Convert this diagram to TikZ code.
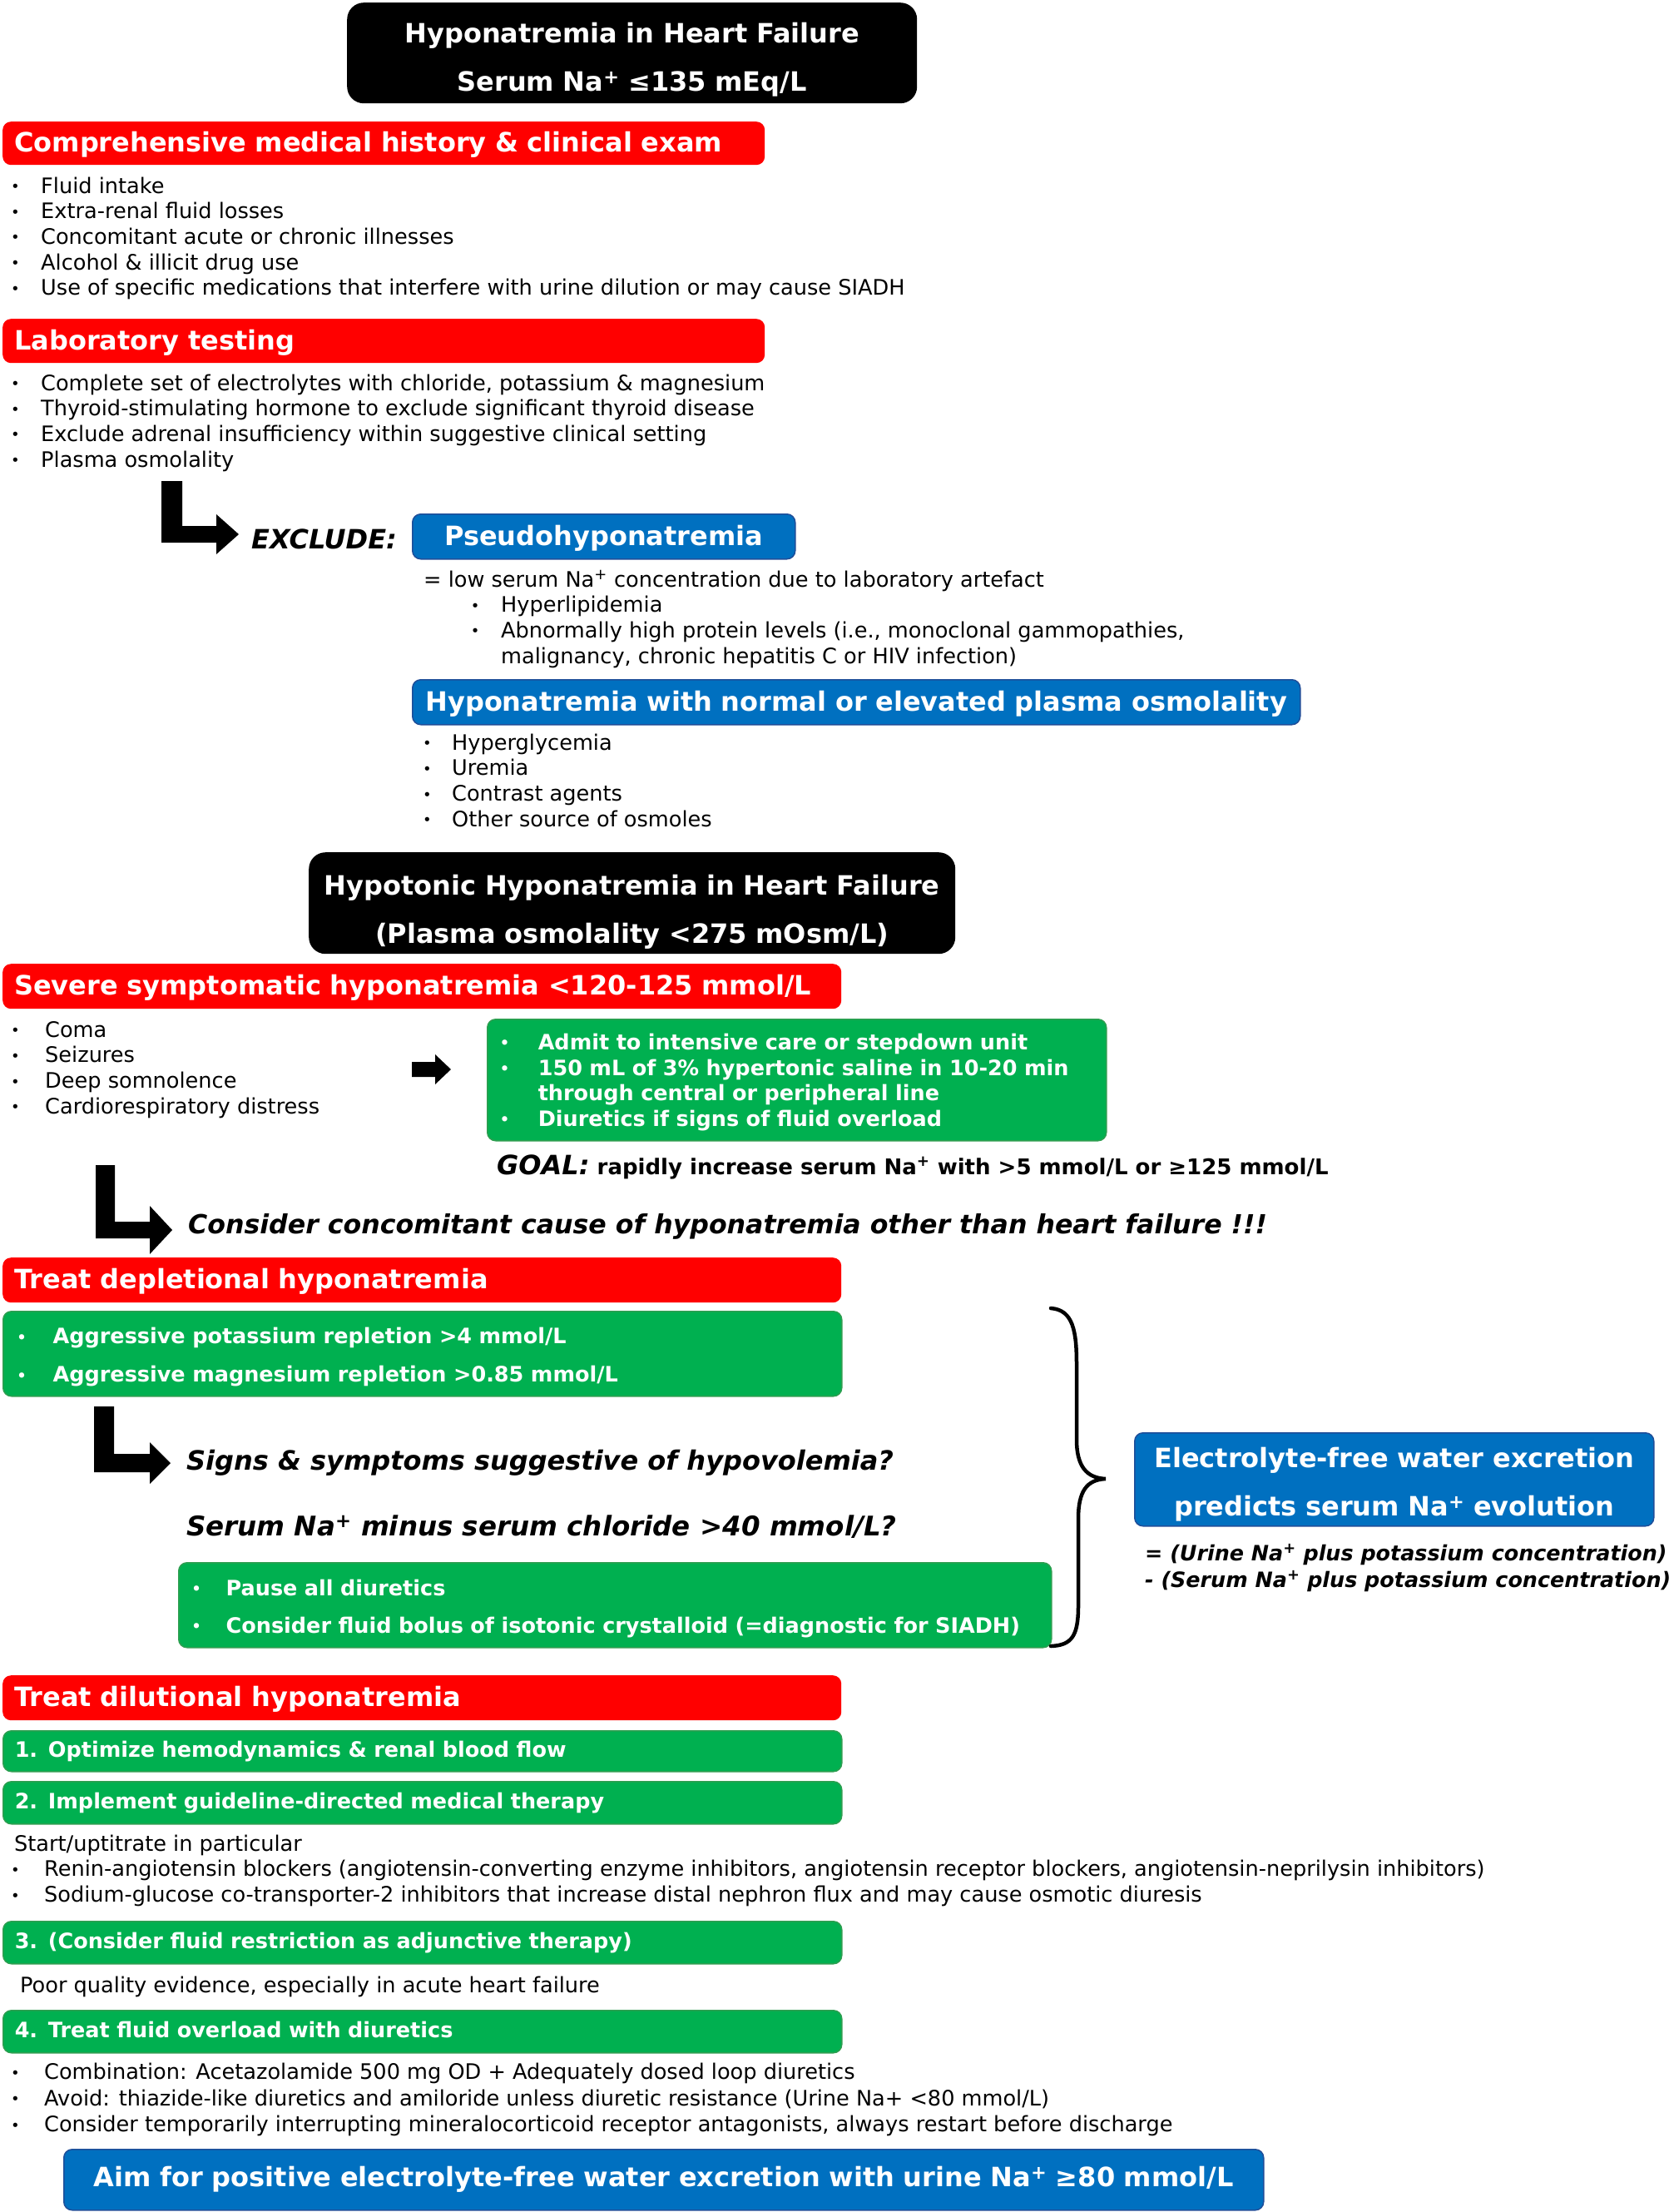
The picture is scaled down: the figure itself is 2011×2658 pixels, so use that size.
\documentclass[tikz,border=0pt]{standalone}
\usepackage{fontspec}
\setmainfont{DejaVu Sans}
\definecolor{hred}{HTML}{FF0000}
\definecolor{hgreen}{HTML}{00B050}
\definecolor{hblue}{HTML}{0070C0}
\definecolor{gedge}{HTML}{2E9E50}
\definecolor{bedge}{HTML}{1F4E99}
\newcommand\bodyfont{\fontsize{25.6}{30.7}\selectfont}
\newcommand\hdfont{\fontsize{32}{38}\selectfont\bfseries}
\newcommand\gfont{\fontsize{25.5}{30.6}\selectfont\bfseries}
\newcommand\bu[1]{\strut\makebox[#1pt][l]{\raisebox{1.5pt}{\fontsize{18}{18}\selectfont\textbullet}}}
\newcommand\Nap{Na\textsuperscript{+}}
\newcommand\hs{\rule[-5pt]{0pt}{33pt}}
\newcommand\gs{\rule[-4pt]{0pt}{23pt}}
\begin{document}
\begin{tikzpicture}[x=1pt,y=-1pt,
  box/.style={rectangle, rounded corners=10pt, anchor=north west, inner ysep=0pt, inner xsep=14pt, align=left},
  hdr/.style={box, fill=hred, text=white, font=\hdfont},
  blk/.style={box, rounded corners=20pt, fill=black, text=white, align=center, font=\fontsize{32}{58}\selectfont\bfseries},
  bluebox/.style={box, fill=hblue, draw=bedge, line width=1.5pt, text=white, align=center, font=\hdfont},
  grn/.style={box, fill=hgreen, draw=gedge, line width=1.5pt, text=white, font=\gfont},
  blist/.style={anchor=north west, inner sep=0pt, align=left, font=\bodyfont},
  btext/.style={anchor=base west, inner sep=0pt, font=\bodyfont},
  bigit/.style={anchor=base west, inner sep=0pt, font=\fontsize{32}{38}\selectfont\bfseries\itshape},
  bigarrow/.style={fill=black}
]
\useasboundingbox (0,0) rectangle (2011,2658);

% top title
\node[blk, minimum width=685pt, minimum height=121pt, text width=657pt] (t1) at (417,3)
  {\rule{0pt}{46pt}Hyponatremia in Heart Failure\\\rule[-12pt]{0pt}{0pt}Serum \Nap{} ≤135 mEq/L};

% history
\node[hdr, minimum width=916pt, minimum height=52pt, text width=888pt] (h1) at (3,146)
  {\hs Comprehensive medical history \& clinical exam};
\node[blist] (l1) at (13,210.4) {%
  \bu{36}Fluid intake\\
  \bu{36}Extra-renal fluid losses\\
  \bu{36}Concomitant acute or chronic illnesses\\
  \bu{36}Alcohol \& illicit drug use\\
  \bu{36}Use of specific medications that interfere with urine dilution or may cause SIADH};

% lab
\node[hdr, minimum width=916pt, minimum height=53pt, text width=888pt] (h2) at (3,383)
  {\hs Laboratory testing};
\node[blist] (l2) at (13,447.4) {%
  \bu{36}Complete set of electrolytes with chloride, potassium \& magnesium\\
  \bu{36}Thyroid-stimulating hormone to exclude significant thyroid disease\\
  \bu{36}Exclude adrenal insufficiency within suggestive clinical setting\\
  \bu{36}Plasma osmolality};

% exclude
\fill[bigarrow] (194,578) -- (219,578) -- (219,632) -- (260,632) -- (260,618) -- (287,642)
  -- (260,666) -- (260,652) -- (194,652) -- cycle;
\node[bigit] (ex) at (302,659) {EXCLUDE:};
\node[bluebox, minimum width=460pt, minimum height=54pt, text width=432pt] (ps) at (495,617)
  {\hs Pseudohyponatremia};
\node[blist] (psl) at (509,683.4) {%
  \strut = low serum \Nap{} concentration due to laboratory artefact\\
  \strut\hspace{56.6pt}\bu{36.4}Hyperlipidemia\\
  \strut\hspace{56.6pt}\bu{36.4}Abnormally high protein levels (i.e., monoclonal gammopathies,\\
  \strut\hspace{93pt}malignancy, chronic hepatitis C or HIV infection)};
\node[bluebox, minimum width=1067pt, minimum height=54pt, text width=1039pt] (hn) at (495,816)
  {\hs Hyponatremia with normal or elevated plasma osmolality};
\node[blist] (hnl) at (508,879.4) {%
  \bu{35}Hyperglycemia\\
  \bu{35}Uremia\\
  \bu{35}Contrast agents\\
  \bu{35}Other source of osmoles};

% hypotonic
\node[blk, minimum width=777pt, minimum height=122pt, text width=749pt] (t2) at (371,1024)
  {\rule{0pt}{48pt}Hypotonic Hyponatremia in Heart Failure\\\rule[-10pt]{0pt}{0pt}(Plasma osmolality <275 mOsm/L)};
\node[hdr, minimum width=1008pt, minimum height=54pt, text width=980pt] (h3) at (3,1158)
  {\hs Severe symptomatic hyponatremia <120-125 mmol/L};
\node[blist] (sym) at (13,1224.4) {%
  \bu{41}Coma\\
  \bu{41}Seizures\\
  \bu{41}Deep somnolence\\
  \bu{41}Cardiorespiratory distress};
\fill[bigarrow] (495,1276) -- (523,1276) -- (523,1267) -- (542,1285) -- (523,1303) -- (523,1294) -- (495,1294) -- cycle;
\node[grn, minimum width=744pt, minimum height=146pt, text width=714pt, inner xsep=15pt] (g0) at (585,1224) {%
  \rule{0pt}{28.4pt}\bu{46}Admit to intensive care or stepdown unit\\
  \bu{46}150 mL of 3\% hypertonic saline in 10-20 min\\
  \strut\hspace{46pt}through central or peripheral line\\
  \bu{46}Diuretics if signs of fluid overload};
\node[anchor=base west, inner sep=0pt] (goal) at (597,1411)
  {\fontsize{32}{38}\selectfont\bfseries\itshape GOAL:\fontsize{26}{30}\selectfont\upshape\ rapidly increase serum \Nap{} with >5 mmol/L or ≥125 mmol/L};

% consider
\fill[bigarrow] (115,1400) -- (138,1400) -- (138,1468) -- (180,1468) -- (180,1449) -- (207,1478)
  -- (180,1507) -- (180,1488) -- (115,1488) -- cycle;
\node[bigit, font=\fontsize{31.6}{38}\selectfont\bfseries\itshape] (cons) at (226,1482)
  {Consider concomitant cause of hyponatremia other than heart failure !!!};

% depletional
\node[hdr, minimum width=1008pt, minimum height=54pt, text width=980pt] (h4) at (3,1511)
  {\hs Treat depletional hyponatremia};
\node[grn, minimum width=1008pt, minimum height=102pt, text width=975pt, inner xsep=16.5pt,
  font=\fontsize{25.5}{46}\selectfont\bfseries] (g1) at (3,1575) {%
  \rule{0pt}{35.5pt}\bu{43.4}Aggressive potassium repletion >4 mmol/L\\
  \bu{43.4}Aggressive magnesium repletion >0.85 mmol/L};
\fill[bigarrow] (113,1690) -- (137,1690) -- (137,1747) -- (180,1747) -- (180,1733) -- (205,1758)
  -- (180,1783) -- (180,1769) -- (113,1769) -- cycle;
\node[bigit] (sg) at (224,1766) {Signs \& symptoms suggestive of hypovolemia?};
\node[bigit, font=\fontsize{32.5}{38}\selectfont\bfseries\itshape] (sn) at (224,1845)
  {Serum \Nap{} minus serum chloride >40 mmol/L?};
\node[grn, minimum width=1049pt, minimum height=102pt, text width=1018pt, inner xsep=15.5pt,
  font=\fontsize{25.5}{45}\selectfont\bfseries] (g2) at (214,1877) {%
  \rule{0pt}{35pt}\bu{41.4}Pause all diuretics\\
  \bu{41.4}Consider fluid bolus of isotonic crystalloid (=diagnostic for SIADH)};

% brace
\draw[line width=4.5pt, line cap=round] (1263,1572) .. controls (1290,1574) and (1294,1600) .. (1294,1640)
  -- (1294,1730) .. controls (1294,1762) and (1306,1776) .. (1329,1777)
  .. controls (1306,1778) and (1296,1792) .. (1296,1825)
  -- (1296,1930) .. controls (1296,1966) and (1288,1977) .. (1263,1978);
\node[bluebox, minimum width=624pt, minimum height=112pt, text width=596pt,
  font=\fontsize{32}{58}\selectfont\bfseries] (ef) at (1363,1721)
  {\rule{0pt}{40pt}Electrolyte-free water excretion\\\rule[-10pt]{0pt}{0pt}predicts serum \Nap{} evolution};
\node[anchor=north west, inner sep=0pt, align=left, font=\fontsize{25.4}{32}\selectfont\bfseries\itshape] (form) at (1376,1852.5)
  {\strut = (Urine \Nap{} plus potassium concentration)\\\strut - (Serum \Nap{} plus potassium concentration)};

% dilutional
\node[hdr, minimum width=1008pt, minimum height=54pt, text width=980pt] (h5) at (3,2013)
  {\hs Treat dilutional hyponatremia};
\node[grn, minimum width=1008pt, minimum height=49pt, text width=980pt] (d1) at (3,2079)
  {\gs 1. Optimize hemodynamics \& renal blood flow};
\node[grn, minimum width=1008pt, minimum height=51pt, text width=980pt] (d2) at (3,2140)
  {\gs 2. Implement guideline-directed medical therapy};
\node[blist] (dl2) at (13,2202.4) {%
  \strut\hspace{4pt}Start/uptitrate in particular\\
  \bu{40}Renin-angiotensin blockers (angiotensin-converting enzyme inhibitors, angiotensin receptor blockers, angiotensin-neprilysin inhibitors)\\
  \bu{40}Sodium-glucose co-transporter-2 inhibitors that increase distal nephron flux and may cause osmotic diuresis};
\node[grn, minimum width=1008pt, minimum height=51pt, text width=980pt] (d3) at (3,2308)
  {\gs 3. (Consider fluid restriction as adjunctive therapy)};
\node[btext] (poor) at (24,2394) {Poor quality evidence, especially in acute heart failure};
\node[grn, minimum width=1008pt, minimum height=51pt, text width=980pt] (d4) at (3,2415)
  {\gs 4. Treat fluid overload with diuretics};
\node[blist, font=\fontsize{25.6}{31.5}\selectfont] (dl4) at (13,2476.5) {%
  \bu{40}Combination: Acetazolamide 500 mg OD + Adequately dosed loop diuretics\\
  \bu{40}Avoid: thiazide-like diuretics and amiloride unless diuretic resistance (Urine Na+ <80 mmol/L)\\
  \bu{40}Consider temporarily interrupting mineralocorticoid receptor antagonists, always restart before discharge};
\node[bluebox, minimum width=1442pt, minimum height=73pt, text width=1414pt] (aim) at (76,2582)
  {\rule[-8pt]{0pt}{30pt}Aim for positive electrolyte-free water excretion with urine \Nap{} ≥80 mmol/L};
\end{tikzpicture}
\end{document}
